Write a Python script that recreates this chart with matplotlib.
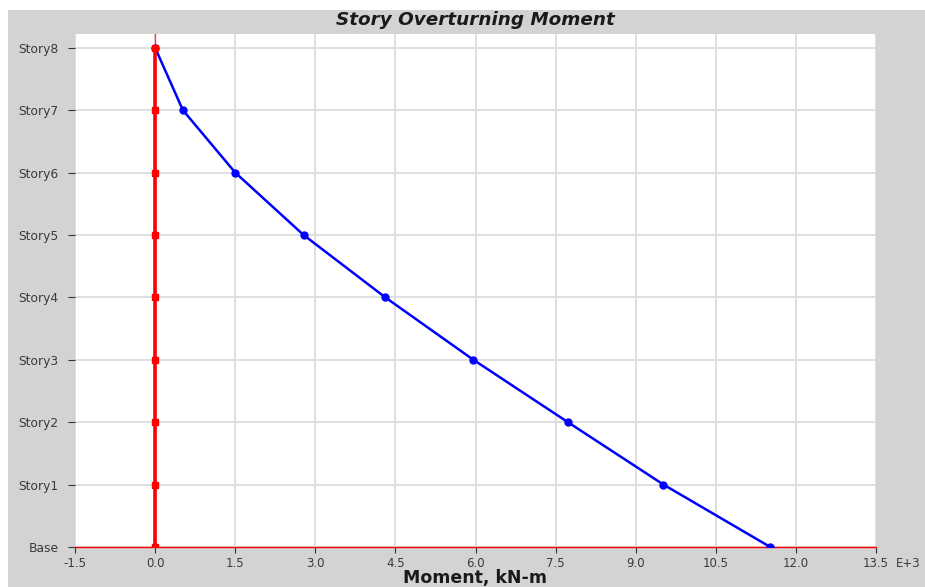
import numpy as np
import matplotlib
matplotlib.use("Agg")
from matplotlib import pyplot as plt
from matplotlib.patches import Rectangle

plt.rcParams['font.family'] = ['DejaVu Sans']

# story levels, base at the bottom
stories = ['Base', 'Story1', 'Story2', 'Story3', 'Story4', 'Story5', 'Story6', 'Story7', 'Story8']
# overturning moment, kN-m (E+3)
moment = [11.52, 9.52, 7.73, 5.96, 4.31, 2.78, 1.50, 0.52, 0.0]
# second series sits on zero
moment_y = [0.0, 0.0, 0.0, 0.0, 0.0, 0.0, 0.0, 0.0, 0.0]
xticks = [-1.5, 0.0, 1.5, 3.0, 4.5, 6.0, 7.5, 9.0, 10.5, 12.0, 13.5]

W, H = 925, 587
fig = plt.figure(figsize=(W / 100, H / 100), dpi=100)
fig.patch.set_facecolor('white')
# grey frame around the plot
fig.patches.append(Rectangle((8 / W, 0), 917 / W, 577 / H, transform=fig.transFigure,
                             facecolor='#d3d3d3', edgecolor='none', zorder=-5))

ax = fig.add_axes([75 / W, 40 / H, 801 / W, 513 / H])
ax.set_zorder(1)
ax.set_facecolor('white')

lev = np.arange(len(stories))
ax.axvline(0, color='#ff4040', lw=1, zorder=2)
ax.plot(moment, lev, color='blue', lw=1.8, marker='o', markersize=5, zorder=4)
ax.plot(moment_y, lev, color='red', lw=2.6, marker='s', markersize=5, zorder=5)

ax.set_xlim(-1.5, 13.5)
ax.set_ylim(0, 8.22)
ax.set_xticks(xticks)
ax.set_xticklabels(['%.1f' % v for v in xticks])
ax.set_yticks(lev)
ax.set_yticklabels(stories)
ax.grid(True, color='#dcdcdc', lw=1.3, zorder=0)
ax.set_axisbelow(True)

for s in ['top', 'right', 'left']:
    ax.spines[s].set_visible(False)
ax.spines['bottom'].set_color('red')
ax.spines['bottom'].set_linewidth(1.0)

ax.tick_params(axis='y', length=5, pad=7, color='#333333', labelsize=8.8, labelcolor='#3a3a3a')
ax.tick_params(axis='x', length=4, pad=3, color='#333333', labelsize=8.5, labelcolor='#3a3a3a')

# exponent note right of the last tick label
ax.annotate('E+3', xy=(13.5, 0), xycoords='data', xytext=(14, -7),
            textcoords='offset points', ha='left', va='top', fontsize=8.5, color='#3a3a3a',
            annotation_clip=False)

fig.text(475.5 / W, 1 - 20 / H, 'Story Overturning Moment', ha='center', va='center',
         fontsize=13.2, fontweight='bold', fontstyle='italic', color='#1a1a1a')
fig.text(475.5 / W, 1 - 578 / H, 'Moment, kN-m', ha='center', va='center',
         fontsize=12.5, fontweight='bold', color='#1a1a1a')

fig.savefig('out.png', dpi=100)
